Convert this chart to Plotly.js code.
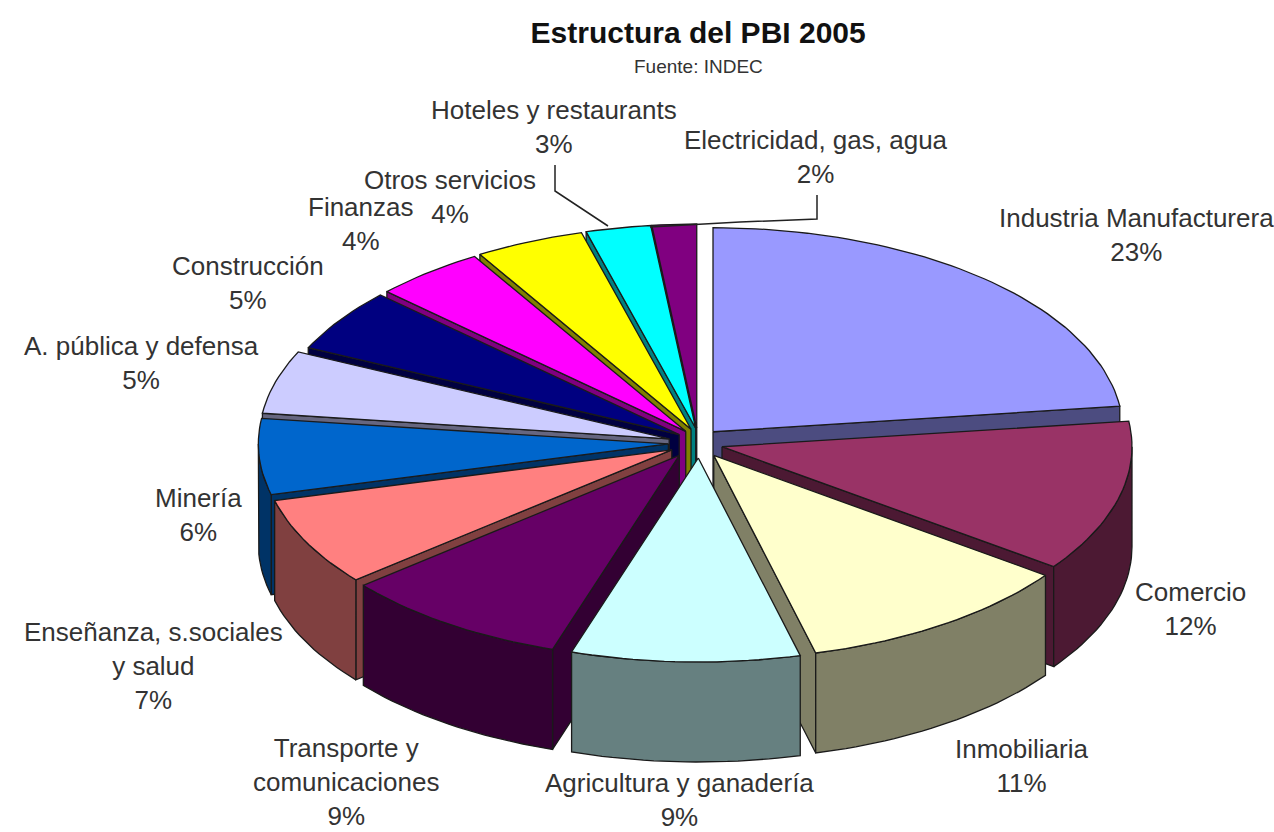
<!DOCTYPE html>
<html><head><meta charset="utf-8">
<script src="https://cdn.plot.ly/plotly-3.0.1.min.js"></script>
<style>html,body{margin:0;padding:0;background:#fff}#c{width:1274px;height:832px}</style>
</head><body><div id="c"></div>
<script>
// Data
const categories = ["Industria Manufacturera","Comercio","Inmobiliaria","Agricultura y ganadería","Transporte y<br>comunicaciones","Enseñanza, s.sociales<br>y salud","Minería","A. pública y defensa","Construcción","Finanzas","Otros servicios","Hoteles y restaurants","Electricidad, gas, agua"];
const values = [23,12,11,9,9,7,6,5,5,4,4,3,2];
// Styles
const topColors = ["#9999FF","#993366","#FFFFCC","#CCFFFF","#660066","#FF8080","#0066CC","#CCCCFF","#000080","#FF00FF","#FFFF00","#00FFFF","#800080"];
const wallColors = ["#4C4C80","#4C1933","#808066","#668080","#330033","#804040","#003366","#666680","#000040","#800080","#808000","#008080","#400040"];
// Label anchors (screen layout)
const labelX = [1136,1190,1021,679,346,153,198,141,248,361,450,554,816];
const labelY = [235,609,766,800,782,666,515,363,283,224,197,127,157];
// Pie geometry: projection tweaks of the tilted view
const CX=700, CY=443, RX=410, RY=204, EX=22.7, EY=15, DEPTH=100;
const explodeNudgeX = [-2,0,1,-1,-8,-8,-9,-9,-2,0,0,0,-2];
const endAngleNudge = [0,0,0,0,0,0,0,0,0,1.4,2.5,0.9,0];
const total = values.reduce((a,b)=>a+b,0);
const rad = d=>d*Math.PI/180;

function pt(ox,oy,a,drop){ return [ox+RX*Math.sin(rad(a)), oy-RY*Math.cos(rad(a))+(drop||0)]; }
function arc(ox,oy,a1,a2,drop){
  const out=[], n=Math.max(2,Math.ceil(Math.abs(a2-a1)/1.5));
  for(let i=0;i<=n;i++) out.push(pt(ox,oy,a1+(a2-a1)*i/n,drop));
  return out;
}
function poly(points,fill){
  const p=points.concat([points[0]]);
  return {type:"scatter",mode:"lines",x:p.map(q=>q[0]),y:p.map(q=>q[1]),fill:"toself",fillcolor:fill,
    line:{color:"#1a1a1a",width:1.3},hoverinfo:"skip",showlegend:false};
}
let acc=0;
const slices=values.map((v,i)=>{
  const a1=acc/total*360+(i?endAngleNudge[i-1]:0); acc+=v; const a2=acc/total*360+endAngleNudge[i]; const m=(a1+a2)/2;
  return {i,a1,a2,m,ox:CX+EX*Math.sin(rad(m))+explodeNudgeX[i],oy:CY-EY*Math.cos(rad(m))};
});
slices.sort((p,q)=>Math.cos(rad(q.m))-Math.cos(rad(p.m)));
const traces=[];
slices.forEach(s=>{
  const w=wallColors[s.i], tip=[s.ox,s.oy], tipD=[s.ox,s.oy+DEPTH];
  if(Math.sin(rad(s.a1))<-1e-6){ traces.push(poly([tip,pt(s.ox,s.oy,s.a1),pt(s.ox,s.oy,s.a1,DEPTH),tipD],w)); }
  if(Math.sin(rad(s.a2))>1e-6){ traces.push(poly([tip,pt(s.ox,s.oy,s.a2),pt(s.ox,s.oy,s.a2,DEPTH),tipD],w)); }
  const w1=Math.max(s.a1,90), w2=Math.min(s.a2,270);
  if(w2>w1){ traces.push(poly(arc(s.ox,s.oy,w1,w2,0).concat(arc(s.ox,s.oy,w2,w1,DEPTH)),w)); }
  traces.push(poly([tip].concat(arc(s.ox,s.oy,s.a1,s.a2,0)),topColors[s.i]));
});
const annotations=categories.map((c,i)=>({x:labelX[i],y:labelY[i],xref:"x",yref:"y",text:c+"<br>"+values[i]+"%",showarrow:false,xanchor:"center",yanchor:"middle",align:"center",font:{family:"Liberation Sans, Arial, sans-serif",size:26,color:"#333"}}));
annotations.push({x:698,y:66,xref:"x",yref:"y",text:"Fuente: INDEC",showarrow:false,font:{family:"Liberation Sans, Arial, sans-serif",size:19,color:"#333"}});
const leader=(xs,ys)=>({type:"scatter",mode:"lines",x:xs,y:ys,line:{color:"#222",width:1.5},hoverinfo:"skip",showlegend:false});
traces.push(leader([555,555,608],[165,191,226]));
traces.push(leader([817,817,740,650],[195,219,222,227]));
Plotly.newPlot("c",traces,{
  width:1274,height:832,margin:{l:0,r:0,t:0,b:0},paper_bgcolor:"#fff",plot_bgcolor:"#fff",showlegend:false,
  title:{text:"<b>Estructura del PBI 2005</b>",x:0.548,xanchor:"center",y:0.961,yanchor:"middle",font:{family:"Liberation Sans, Arial, sans-serif",size:30,color:"#111"}},
  xaxis:{range:[0,1274],visible:false,fixedrange:true},
  yaxis:{range:[832,0],visible:false,fixedrange:true},
  annotations
},{staticPlot:true,displayModeBar:false});
</script></body></html>
